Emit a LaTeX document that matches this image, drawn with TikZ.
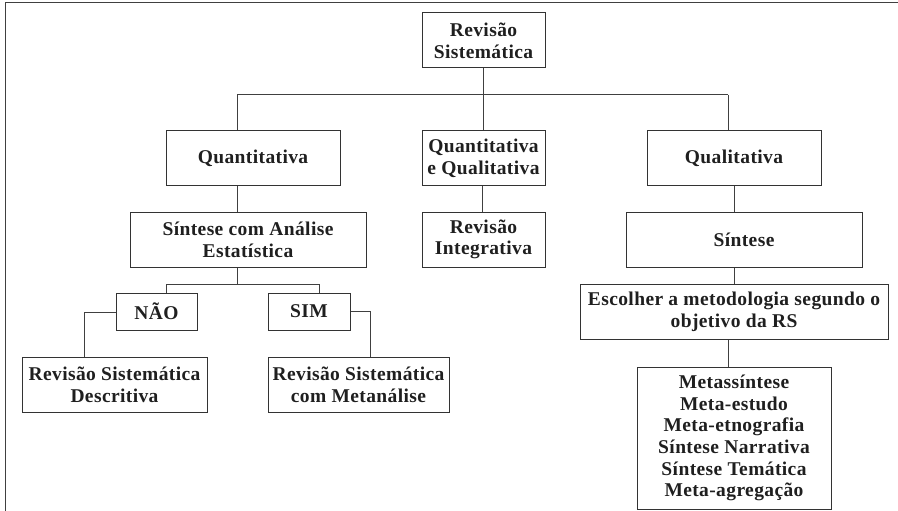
\documentclass[tikz,border=0pt]{standalone}
\usepackage{fontspec}
\setmainfont{Liberation Serif}[LetterSpace=2]
\begin{document}
\begin{tikzpicture}[x=1pt,y=-1pt,
  box/.style={draw=black!80, line width=1pt, inner sep=0pt, align=center,
    font=\bfseries\fontsize{19.5}{21.7}\selectfont, text=black!88},
  conn/.style={draw=black!75, line width=1pt}]
\useasboundingbox (0,0) rectangle (898,511);
\draw[conn] (5,511) -- (5,3) -- (898,3);
\node[box, minimum width=123, minimum height=55] (root) at (483.5,40.5) {Revisão\\Sistemática};
\node[box, minimum width=174, minimum height=54] (quant) at (253,158) {Quantitativa};
\node[box, minimum width=123, minimum height=54] (qq) at (483.5,158) {Quantitativa\\e Qualitativa};
\node[box, minimum width=174, minimum height=54] (qual) at (734,158) {Qualitativa};
\node[box, minimum width=236, minimum height=55] (sca) at (248,239.5) {Síntese com Análise\\Estatística};
\node[box, minimum width=123, minimum height=55] (ri) at (483.5,239.5) {Revisão\\Integrativa};
\node[box, minimum width=236, minimum height=55] (sint) at (744,239.5) {Síntese};
\node[box, minimum width=308, minimum height=55] (esc) at (734,311.5) {Escolher a metodologia segundo o\\objetivo da RS};
\node[box, minimum width=194, minimum height=142] (meta) at (734,438) {Metassíntese\\Meta-estudo\\Meta-etnografia\\Síntese Narrativa\\Síntese Temática\\Meta-agregação};
\node[box, minimum width=81, minimum height=37] (nao) at (156.5,311.5) {NÃO};
\node[box, minimum width=82, minimum height=37] (sim) at (309,311.5) {SIM};
\node[box, minimum width=185, minimum height=55] (desc) at (114.5,384.5) {Revisão Sistemática\\Descritiva};
\node[box, minimum width=181, minimum height=55] (metan) at (358.5,384.5) {Revisão Sistemática\\com Metanálise};
% junctions
\coordinate (bar) at (483,95);
\coordinate (barL) at (237,95);
\coordinate (barR) at (728,95);
\coordinate (bar2) at (237,284);
\coordinate (bar2L) at (166,284);
\coordinate (bar2R) at (319,284);
\coordinate (naoL) at (84,312);
\coordinate (simR) at (370,311);
% connectors
\draw[conn] (root.south -| bar) -- (bar);
\draw[conn] (barL) -- (barR);
\draw[conn] (barL) -- (barL |- quant.north);
\draw[conn] (bar) -- (bar |- qq.north);
\draw[conn] (barR) -- (barR |- qual.north);
\draw[conn] (quant.south -| barL) -- (sca.north -| barL);
\draw[conn] (qq.south -| 482,0) -- (ri.north -| 482,0);
\draw[conn] (qual.south) -- (sint.north -| qual.south);
\draw[conn] (sint.south -| qual.south) -- (esc.north);
\draw[conn] (esc.south -| barR) -- (meta.north -| barR);
\draw[conn] (sca.south -| bar2) -- (bar2);
\draw[conn] (bar2L) -- (bar2R);
\draw[conn] (bar2L) -- (bar2L |- nao.north);
\draw[conn] (bar2R) -- (bar2R |- sim.north);
\draw[conn] (nao.west |- naoL) -- (naoL) -- (naoL |- desc.north);
\draw[conn] (sim.east |- simR) -- (simR) -- (simR |- metan.north);
\end{tikzpicture}
\end{document}
